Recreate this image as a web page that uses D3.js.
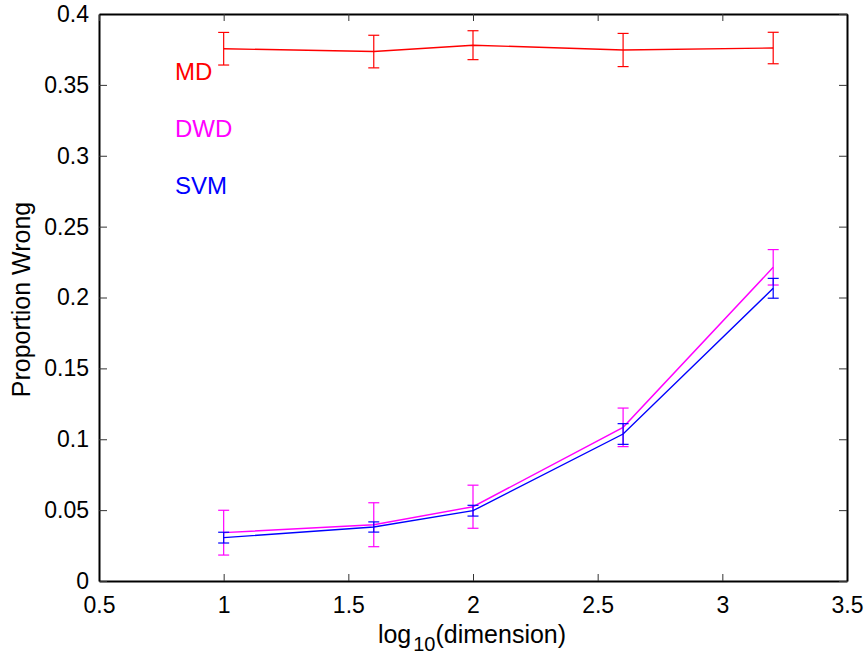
<!DOCTYPE html>
<html>
<head>
<meta charset="utf-8">
<script src="https://cdn.jsdelivr.net/npm/d3@7"></script>
<style>
  body { margin: 0; background: #fff; }
  svg { font-family: "Liberation Sans", Arial, sans-serif; }
</style>
</head>
<body>
<div id="chart"></div>
<script>
const width = 867, height = 658;
const margin = {top: 14, right: 20, bottom: 77, left: 99};

// data (x = log10 of dimension)
const xValues = [1, 1.602, 2, 2.602, 3.204];
const mdMean = [0.3755, 0.3735, 0.378, 0.3746, 0.376];
const mdErr  = [0.0115, 0.0115, 0.0102, 0.0117, 0.0111];
const dwdMean = [0.0341, 0.0397, 0.0524, 0.1084, 0.2213];
const dwdErr  = [0.0158, 0.0155, 0.0152, 0.0136, 0.0125];
const svmMean = [0.0306, 0.0381, 0.0496, 0.1037, 0.2065];
const svmErr  = [0.0038, 0.0036, 0.0038, 0.0073, 0.0070];

const xTicks = [0.5, 1, 1.5, 2, 2.5, 3, 3.5];
const yTicks = [0, 0.05, 0.1, 0.15, 0.2, 0.25, 0.3, 0.35, 0.4];

const series = [
  {name: "MD",  color: "#ff0000", mean: mdMean,  err: mdErr,  labelY: 0.3534},
  {name: "DWD", color: "#ff00ff", mean: dwdMean, err: dwdErr, labelY: 0.3132},
  {name: "SVM", color: "#0000ff", mean: svmMean, err: svmErr, labelY: 0.273}
];
const labelX = 0.805;

const svg = d3.select("#chart").append("svg")
    .attr("width", width)
    .attr("height", height);

const x = d3.scaleLinear().domain([0.5, 3.5]).range([margin.left, width - margin.right]);
const y = d3.scaleLinear().domain([0, 0.4]).range([height - margin.bottom, margin.top]);

const fmt = d => d3.format("")(d);

// axes with inward ticks on all four sides
svg.append("g")
    .attr("transform", `translate(0,${y(0)})`)
    .call(d3.axisBottom(x).tickValues(xTicks).tickFormat(fmt).tickSizeInner(-7).tickSizeOuter(0).tickPadding(16))
    .call(g => g.selectAll("text").attr("font-size", 23).attr("fill", "#000"));

svg.append("g")
    .attr("transform", `translate(${x(0.5)},0)`)
    .call(d3.axisLeft(y).tickValues(yTicks).tickFormat(fmt).tickSizeInner(-8).tickSizeOuter(0).tickPadding(10))
    .call(g => g.selectAll("text").attr("font-size", 23).attr("fill", "#000"));

svg.append("g")
    .attr("transform", `translate(0,${y(0.4)})`)
    .call(d3.axisTop(x).tickValues(xTicks).tickFormat("").tickSizeInner(-7).tickSizeOuter(0));

svg.append("g")
    .attr("transform", `translate(${x(3.5)},0)`)
    .call(d3.axisRight(y).tickValues(yTicks).tickFormat("").tickSizeInner(-8).tickSizeOuter(0));

svg.selectAll(".domain").attr("stroke", "#000").attr("stroke-width", 2);
svg.selectAll(".tick line").attr("stroke", "#333").attr("stroke-width", 1);

// series lines and error bars
const line = d3.line().x((d, i) => x(xValues[i])).y(d => y(d));
const cap = 5.5;

series.forEach(s => {
  const g = svg.append("g");
  g.append("path")
      .datum(s.mean)
      .attr("fill", "none")
      .attr("stroke", s.color)
      .attr("stroke-width", 1.4)
      .attr("d", line);

  const eb = g.selectAll(".eb")
      .data(s.mean.map((m, i) => ({x: xValues[i], m, e: s.err[i]})))
      .enter().append("g")
      .attr("stroke", s.color)
      .attr("stroke-width", 1.2);
  eb.append("line")
      .attr("x1", d => x(d.x)).attr("x2", d => x(d.x))
      .attr("y1", d => y(d.m - d.e)).attr("y2", d => y(d.m + d.e));
  eb.append("line")
      .attr("x1", d => x(d.x) - cap).attr("x2", d => x(d.x) + cap)
      .attr("y1", d => y(d.m + d.e)).attr("y2", d => y(d.m + d.e));
  eb.append("line")
      .attr("x1", d => x(d.x) - cap).attr("x2", d => x(d.x) + cap)
      .attr("y1", d => y(d.m - d.e)).attr("y2", d => y(d.m - d.e));

  svg.append("text")
      .attr("x", x(labelX))
      .attr("y", y(s.labelY))
      .attr("font-size", 24)
      .attr("fill", s.color)
      .text(s.name);
});

// axis titles
const xt = svg.append("text")
    .attr("x", x(2) - 1)
    .attr("y", 643)
    .attr("text-anchor", "middle")
    .attr("font-size", 25)
    .attr("fill", "#000");
xt.append("tspan").text("log");
xt.append("tspan").attr("dx", 2).attr("dy", 8).attr("font-size", 20).text("10");
xt.append("tspan").attr("dy", -8).text("(dimension)");

svg.append("text")
    .attr("transform", `translate(30,${y(0.2) + 2}) rotate(-90)`)
    .attr("text-anchor", "middle")
    .attr("font-size", 25)
    .attr("fill", "#000")
    .text("Proportion Wrong");
</script>
</body>
</html>
